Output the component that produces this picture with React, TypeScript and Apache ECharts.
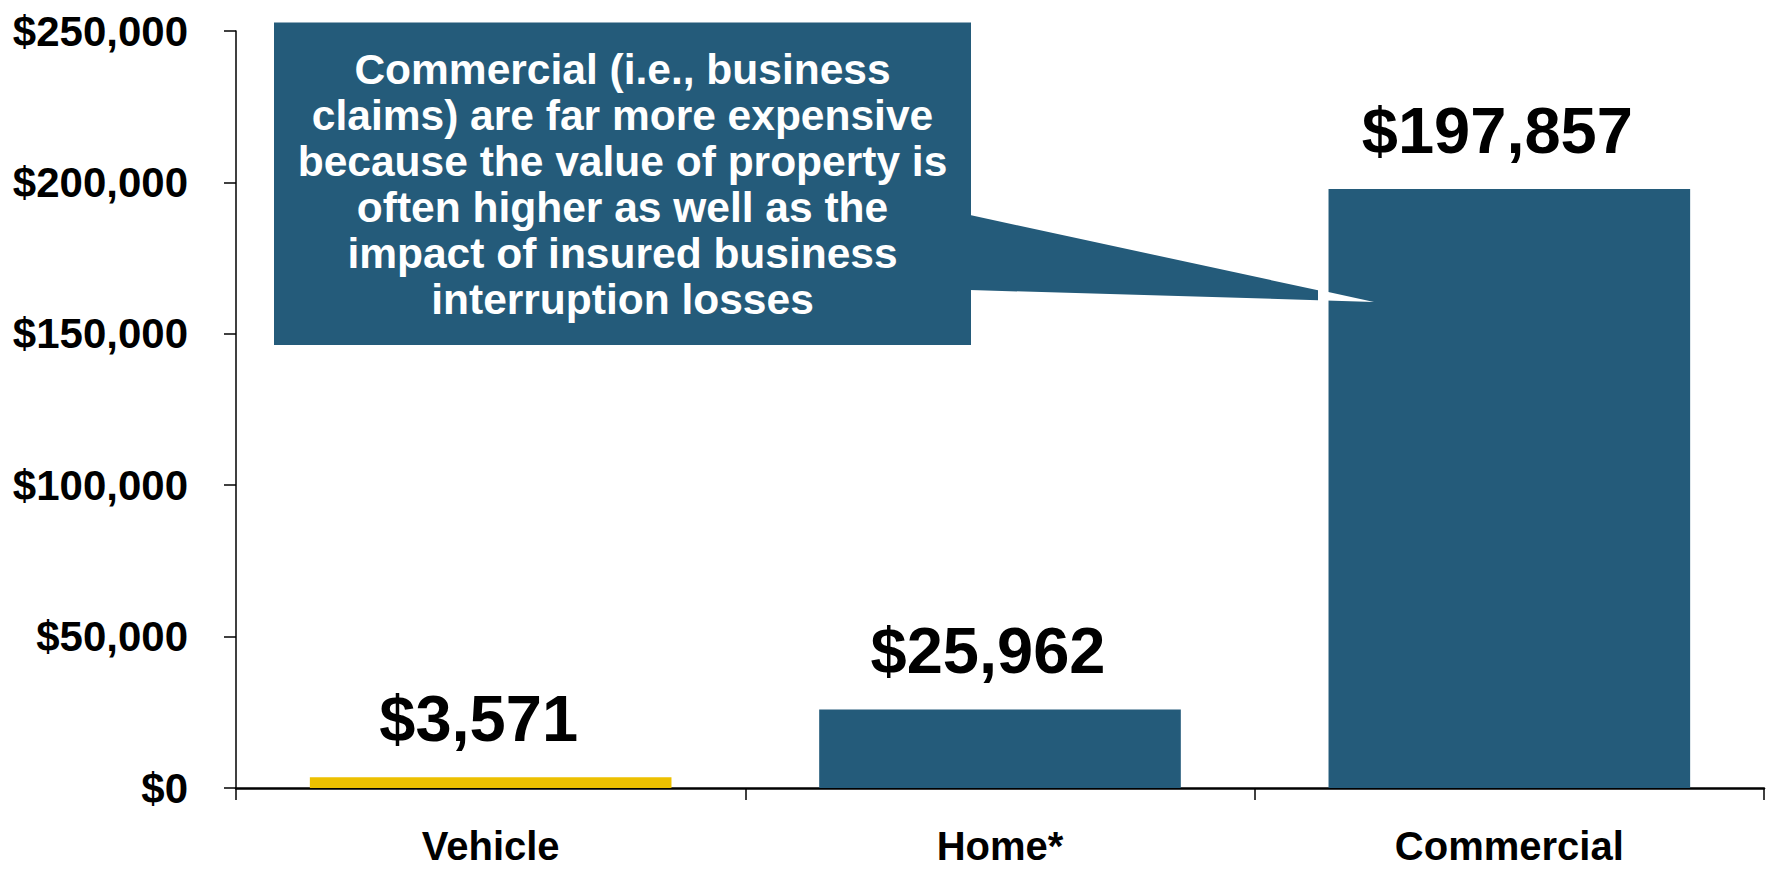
import React, { useEffect, useRef } from "react";
import * as echarts from "echarts";

const categories = ["Vehicle", "Home*", "Commercial"];
const values = [3571, 25962, 197857];
const barColors = ["#EDC000", "#245B7A", "#245B7A"];
const yMin = 0;
const yMax = 250000;
const yInterval = 50000;
const calloutLines = [
  "Commercial (i.e., business",
  "claims) are far more expensive",
  "because the value of property is",
  "often higher as well as the",
  "impact of insured business",
  "interruption losses",
];

const FONT = "'Liberation Sans', Arial, sans-serif";
const DARK = "#245B7A";

const fmt = (v: number) => "$" + Math.round(v).toLocaleString("en-US");

export default function App() {
  const ref = useRef<HTMLDivElement>(null);
  useEffect(() => {
    if (!ref.current) return;
    const chart = echarts.init(ref.current, undefined, { renderer: "svg" });
    chart.setOption({
      animation: false,
      backgroundColor: "#ffffff",
      grid: { left: 236, right: 3, top: 31, bottom: 84, containLabel: false },
      xAxis: {
        type: "category",
        data: categories,
        boundaryGap: true,
        axisLine: { show: true, lineStyle: { color: "#000", width: 2.5 } },
        axisTick: { show: true, length: 12, lineStyle: { color: "#000", width: 1.5 } },
        axisLabel: {
          margin: 38,
          color: "#000",
          fontFamily: FONT,
          fontWeight: "bold",
          fontSize: 40,
        },
      },
      yAxis: {
        type: "value",
        min: yMin,
        max: yMax,
        interval: yInterval,
        splitLine: { show: false },
        axisLine: { show: true, lineStyle: { color: "#000", width: 1.5 } },
        axisTick: { show: true, length: 12, lineStyle: { color: "#000", width: 1.5 } },
        axisLabel: {
          margin: 48,
          color: "#000",
          fontFamily: FONT,
          fontWeight: "bold",
          fontSize: 42,
          formatter: (v: number) => fmt(v),
        },
      },
      series: [
        {
          type: "bar",
          data: values.map((v, i) => ({ value: v, itemStyle: { color: barColors[i] } })),
          barCategoryGap: "29%",
          label: {
            show: true,
            position: "top",
            distance: 26,
            offset: [-12, 0],
            color: "#000",
            fontFamily: FONT,
            fontWeight: "bold",
            fontSize: 65,
            formatter: (p: any) => fmt(p.value),
          },
        },
      ],
      graphic: [
        {
          type: "polygon",
          z: 100,
          shape: {
            points: [
              [970, 215],
              [1318, 290.3],
              [1318, 300.2],
              [970, 290],
            ],
          },
          style: { fill: DARK },
        },
        {
          type: "polygon",
          z: 100,
          shape: {
            points: [
              [1326, 291.6],
              [1374, 302],
              [1326, 300.6],
            ],
          },
          style: { fill: "#ffffff" },
        },
        {
          type: "rect",
          z: 100,
          shape: { x: 274, y: 22.5, width: 697, height: 322.5 },
          style: { fill: DARK },
        },
        {
          type: "text",
          z: 101,
          x: 622.5,
          y: 184,
          style: {
            text: calloutLines.join("\n"),
            fill: "#ffffff",
            font: `bold 42.5px ${FONT}`,
            align: "center",
            verticalAlign: "middle",
            lineHeight: 46,
          },
        },
      ],
    });
    return () => chart.dispose();
  }, []);
  return (
    <div
      ref={ref}
      style={{ position: "fixed", left: 0, top: 0, width: 1767, height: 872, background: "#fff" }}
    />
  );
}
